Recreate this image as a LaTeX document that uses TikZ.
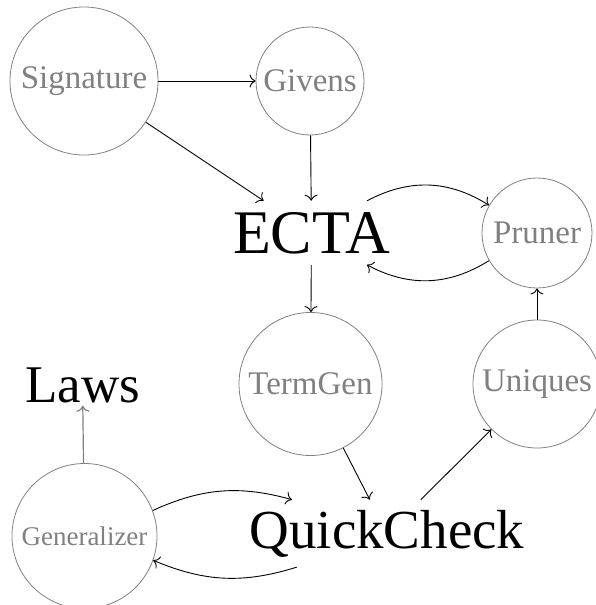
\documentclass[tikz,border=0pt]{standalone}
\usepackage{fontspec}
\setmainfont{Liberation Serif}
\usetikzlibrary{arrows.meta,positioning}

\tikzset{
  stage/.style={circle, draw=gray, line width=0.8pt, text=gray, inner sep=0pt,
    font=\fontsize{33}{36}\selectfont},
  bigword/.style={text=black, anchor=base},
  flow/.style={-{To[length=6pt,width=13pt]}, line width=0.9pt, black},
}

\begin{document}
\begin{tikzpicture}[x=1pt, y=-1pt]
  \useasboundingbox (0,0) rectangle (596,605);

  % pipeline stages drawn as circles
  \node[stage, minimum size=148pt] (sig) at (84,81)    {Signature};
  \node[stage, minimum size=108pt] (giv) at (310,81)   {Givens};
  \node[stage, minimum size=110pt] (pru) at (537,233)  {Pruner};
  \node[stage, minimum size=143pt] (tg)  at (310.5,384) {TermGen};
  \node[stage, minimum size=128pt] (uni) at (537,384)  {Uniques};
  \node[stage, minimum size=145pt, font=\fontsize{27}{30}\selectfont]
       (gen) at (84.5,536) {Generalizer};

  % main components as plain words
  \node[bigword, inner sep=11pt, font=\fontsize{62}{66}\selectfont] (ecta) at (311.5,253) {ECTA};
  \node[bigword, inner sep=10pt, font=\fontsize{55}{60}\selectfont] (qc)   at (387,548)   {QuickCheck};
  \node[bigword, inner sep=3pt,  font=\fontsize{53}{58}\selectfont] (laws) at (82.5,402)  {Laws};

  % data flow
  \draw[flow] (sig) -- (giv);
  \draw[flow] (sig) -- (ecta);
  \draw[flow] (giv) -- (ecta);
  \draw[flow] (ecta) to[bend left=30] (pru);
  \draw[flow] (pru) to[bend left=30] (ecta);
  \draw[flow] (ecta) -- (tg);
  \draw[flow] (uni) -- (pru);
  \draw[flow] (tg) -- (qc);
  \draw[flow] (qc) -- (uni);
  \draw[flow] (gen) to[bend left=20] (qc);
  \draw[flow] (qc) to[bend left=20] (gen);
  \draw[flow, draw=gray, line width=1.2pt] (gen) -- (laws);
\end{tikzpicture}
\end{document}
